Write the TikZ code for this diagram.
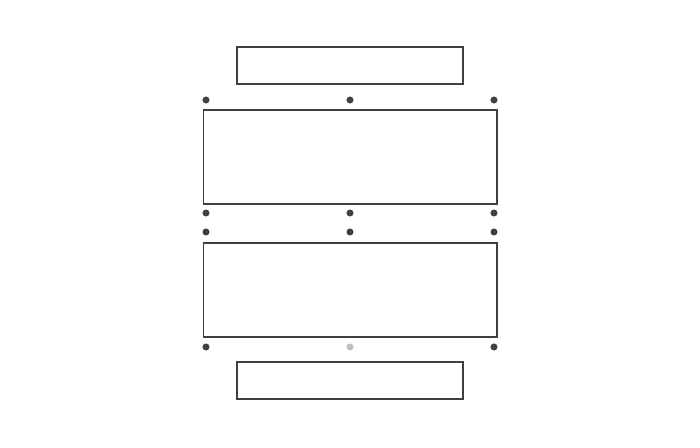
\documentclass[tikz,border=0pt]{standalone}
\usetikzlibrary{positioning}
\begin{document}
\begin{tikzpicture}[x=0.02cm,y=-0.02cm]
 \tikzset{slab/.style = {draw=black!75, line width=0.6pt, rectangle, inner sep=0pt}}
 \tikzset{point/.style = {draw=none, circle, fill=black!75, minimum size=4pt, inner sep=0pt}}
 \def\widesmall{4.52cm}
 \def\widebig{5.88cm}

 \useasboundingbox (0,0) rectangle (700,448);

 \node[slab, minimum width=\widesmall, minimum height=0.74cm] (top) at (350,65.5) {};
 \node[slab, minimum width=\widebig, minimum height=1.88cm] (upper) at (350,157) {};
 \node[slab, minimum width=\widebig, minimum height=1.88cm] (lower) at (350,290) {};
 \node[slab, minimum width=\widesmall, minimum height=0.74cm] (bottom) at (350,380.5) {};

 \foreach \y/\n in {100/a, 213/b, 232/c, 347/d} {
  \node[point] (\n l) at (206,\y) {};
  \node[point] (\n r) at (494,\y) {};
 }
 \foreach \y/\n in {100/a, 213/b, 232/c} {
  \node[point] (\n m) at (350,\y) {};
 }
 \node[point, fill=black!25] (dm) at (350,347) {};

\end{tikzpicture}
\end{document}
